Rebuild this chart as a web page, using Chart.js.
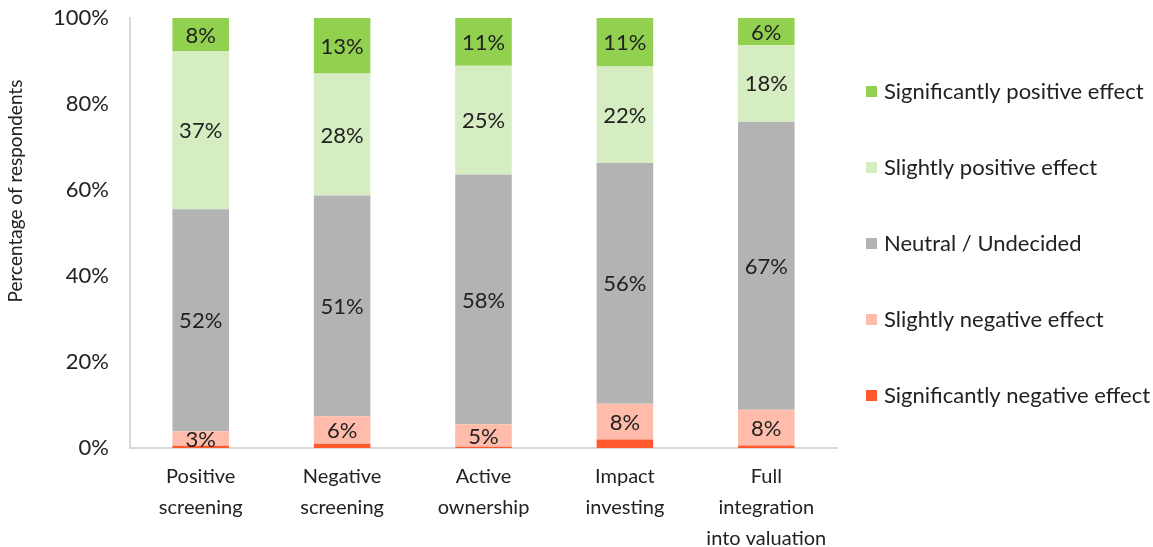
<!DOCTYPE html>
<html>
<head>
<meta charset="utf-8">
<script src="https://cdn.jsdelivr.net/npm/chart.js@4"></script>
<style>
  html, body { margin: 0; padding: 0; background: #fff; }
  #wrap { width: 1153px; height: 547px; }
</style>
</head>
<body>
<div id="wrap"><canvas id="effectChart" width="1153" height="547"></canvas></div>
<script>
// Survey data, percent of respondents per approach
const approaches = [
  ['Positive', 'screening'],
  ['Negative', 'screening'],
  ['Active', 'ownership'],
  ['Impact', 'investing'],
  ['Full', 'integration', 'into valuation']
];
const sigNegative    = [0.5, 1.0, 0.3, 2.0, 0.6];
const slightNegative = [3.4, 6.4, 5.2, 8.3, 8.3];
const neutral        = [51.6, 51.3, 58.1, 56.0, 67.0];
const slightPositive = [36.8, 28.4, 25.3, 22.4, 17.8];
const sigPositive    = [7.7, 12.9, 11.1, 11.3, 6.3];
const yTicks = [0, 20, 40, 60, 80, 100];

const FONT = 'Lato, "Open Sans", sans-serif';
const TEXT = '#222222';

// values inside each segment (the tiny red slices are left unlabelled)
const segmentLabels = {
  id: 'segmentLabels',
  afterDatasetsDraw(chart) {
    const ctx = chart.ctx;
    ctx.save();
    ctx.font = '22px ' + FONT;
    ctx.fillStyle = TEXT;
    ctx.textAlign = 'center';
    ctx.textBaseline = 'middle';
    chart.data.datasets.forEach((ds, i) => {
      if (ds.noLabel) return;
      chart.getDatasetMeta(i).data.forEach((bar, j) => {
        const p = bar.getProps(['x', 'y', 'base'], true);
        ctx.fillText(Math.round(ds.data[j]) + '%', p.x, (p.y + p.base) / 2 + 1);
      });
    });
    ctx.restore();
  }
};

// legend column on the right (top entry = last dataset) and the y title
const sideLegend = {
  id: 'sideLegend',
  afterDraw(chart) {
    const ctx = chart.ctx;
    const x = 866, top = 92, gap = 76;
    ctx.save();
    ctx.font = '22px ' + FONT;
    ctx.textBaseline = 'middle';
    const sets = chart.data.datasets.slice().reverse();
    sets.forEach((ds, k) => {
      const cy = top + k * gap;
      ctx.fillStyle = ds.backgroundColor;
      ctx.fillRect(x, cy - 6, 11, 11);
      ctx.fillStyle = TEXT;
      ctx.fillText(ds.label, x + 18, cy);
    });

    ctx.translate(16, 191);
    ctx.rotate(-Math.PI / 2);
    ctx.textAlign = 'center';
    ctx.font = '19px ' + FONT;
    ctx.fillText('Percentage of respondents', 0, 0);
    ctx.restore();
  }
};

new Chart(document.getElementById('effectChart'), {
  type: 'bar',
  data: {
    labels: approaches,
    datasets: [
      { label: 'Significantly negative effect', data: sigNegative, backgroundColor: '#FF5A2D', noLabel: true },
      { label: 'Slightly negative effect', data: slightNegative, backgroundColor: '#FFBCAB' },
      { label: 'Neutral / Undecided', data: neutral, backgroundColor: '#B3B3B3' },
      { label: 'Slightly positive effect', data: slightPositive, backgroundColor: '#D6EDC1' },
      { label: 'Significantly positive effect', data: sigPositive, backgroundColor: '#92D050' }
    ]
  },
  options: {
    responsive: false,
    animation: false,
    layout: { padding: { top: 18, right: 316, bottom: -20, left: 0 } },
    datasets: {
      bar: { barPercentage: 0.8, categoryPercentage: 0.5, borderWidth: 0 }
    },
    plugins: {
      legend: { display: false },
      tooltip: { enabled: false }
    },
    scales: {
      x: {
        stacked: true,
        grid: { display: false, drawTicks: false },
        border: { color: '#D9D9D9', width: 2 },
        ticks: {
          color: TEXT,
          padding: 13,
          maxRotation: 0,
          font: { family: FONT, size: 20, lineHeight: 1.55 }
        }
      },
      y: {
        stacked: true,
        min: 0,
        max: 100,
        afterFit(scale) {
          scale.width = 130;
          scale.paddingTop = 0;
          scale.paddingBottom = 0;
        },
        afterBuildTicks(scale) { scale.ticks = yTicks.map(v => ({ value: v })); },
        grid: { display: false, drawTicks: false },
        border: { color: '#D9D9D9', width: 2 },
        ticks: {
          color: TEXT,
          padding: 21,
          font: { family: FONT, size: 22 },
          callback: v => v + '%'
        }
      }
    }
  },
  plugins: [segmentLabels, sideLegend]
});
</script>
</body>
</html>
